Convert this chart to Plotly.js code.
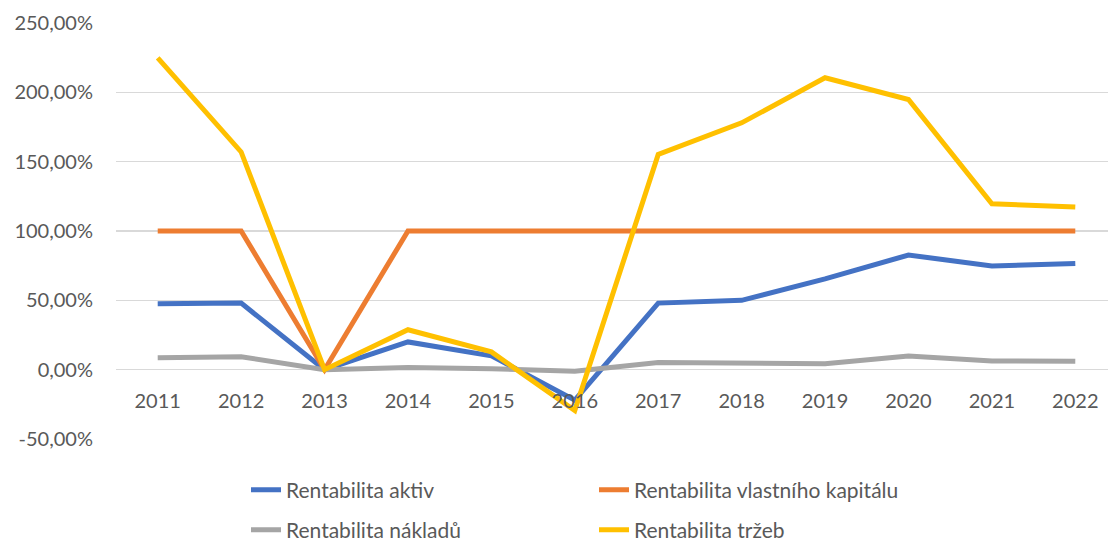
<!DOCTYPE html>
<html>
<head>
<meta charset="utf-8">
<script src="https://cdn.plot.ly/plotly-3.0.1.min.js"></script>
<style>
html,body{margin:0;padding:0;overflow:hidden;background:#fff;}
#chart{width:1117px;height:544px;}
</style>
</head>
<body>
<div id="chart"></div>
<script>
const years = ['2011','2012','2013','2014','2015','2016','2017','2018','2019','2020','2021','2022'];
const rentabilitaAktiv = [47.5, 48, 0, 20, 10, -22, 48, 50, 65.5, 82.7, 74.8, 76.5];
const rentabilitaVK = [100, 100, 0, 100, 100, 100, 100, 100, 100, 100, 100, 100];
const rentabilitaNakladu = [8.6, 9.3, 0, 1.5, 0.7, -1.2, 5.2, 4.8, 4.2, 9.8, 6.3, 6];
const rentabilitaTrzeb = [224.8, 157, 0, 28.8, 12.8, -29.5, 155.2, 178, 210.5, 194.8, 119.6, 117.3];
const seriesNames = ['Rentabilita aktiv', 'Rentabilita vlastního kapitálu', 'Rentabilita nákladů', 'Rentabilita tržeb'];
const yTicks = [-50, 0, 50, 100, 150, 200, 250];
const yTickText = yTicks.map(v => v.toFixed(2).replace('.', ',') + '%');

const colors = ['#4472C4', '#ED7D31', '#A5A5A5', '#FFC000'];
const seriesData = [rentabilitaAktiv, rentabilitaVK, rentabilitaNakladu, rentabilitaTrzeb];
const legendFor = ['legend', 'legend', 'legend2', 'legend2'];
const traces = seriesData.map((d, i) => ({
  x: years, y: d, name: seriesNames[i], type: 'scatter', mode: 'lines',
  legend: legendFor[i],
  line: {color: colors[i], width: 5, cap: 'round', join: 'round'}
}));
const font = {family: 'Lato, "Open Sans", sans-serif', size: 20, color: '#595959'};
const lfont = {family: 'Lato, "Open Sans", sans-serif', size: 21, color: '#595959'};
const legBase = {orientation: 'h', xref: 'container', yref: 'container', x: 246/1117, xanchor: 'left',
  yanchor: 'middle', entrywidth: 303, entrywidthmode: 'pixels', font: lfont, bgcolor: 'rgba(0,0,0,0)'};
Plotly.newPlot('chart', traces, {
  width: 1117, height: 544,
  margin: {l: 116, r: 0, t: 23, b: 105, autoexpand: false},
  paper_bgcolor: '#fff', plot_bgcolor: '#fff',
  font: font,
  showlegend: true,
  legend: Object.assign({}, legBase, {y: 1 - 490/544}),
  legend2: Object.assign({}, legBase, {y: 1 - 530/544}),
  xaxis: {type: 'category', range: [-0.5, 11.5], anchor: 'free', position: 1/6, automargin: false,
    showgrid: false, zeroline: false, showline: false, ticks: 'outside', ticklen: 13,
    tickcolor: 'rgba(0,0,0,0)', tickfont: font},
  yaxis: {range: [-50, 250], tickvals: yTicks, ticktext: yTickText, automargin: false,
    showgrid: true, gridcolor: '#D9D9D9', gridwidth: 1.5, zeroline: false, showline: false,
    ticks: '', ticklabelstandoff: 22, tickfont: font}
}, {displayModeBar: false, staticPlot: true});
</script>
</body>
</html>
